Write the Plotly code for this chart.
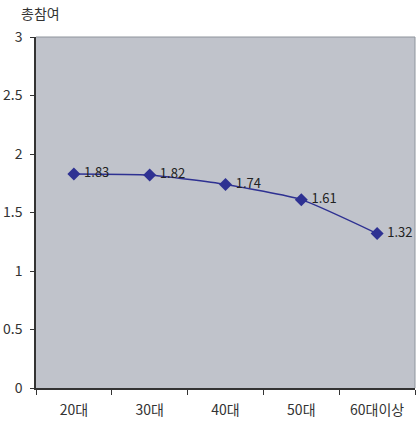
import plotly.graph_objects as go

# Average participation by age group
age_groups = ["20대", "30대", "40대", "50대", "60대이상"]
participation = [1.83, 1.82, 1.74, 1.61, 1.32]
y_ticks = [0, 0.5, 1, 1.5, 2, 2.5, 3]
y_tick_text = ["0", "0.5", "1", "1.5", "2", "2.5", "3"]

FONT = "Noto Sans CJK KR"
LINE_COLOR = "#2E3192"
FRAME_COLOR = "#8E949C"

fig = go.Figure(
    go.Scatter(
        x=age_groups,
        y=participation,
        mode="lines+markers+text",
        line=dict(color=LINE_COLOR, width=1.5, shape="spline", smoothing=0.5),
        marker=dict(symbol="diamond", size=10, color=LINE_COLOR),
        text=[f" {v:.2f}" for v in participation],
        textposition="middle right",
        textfont=dict(family=FONT, size=13, color="#222222"),
        cliponaxis=False,
        showlegend=False,
    )
)

fig.update_layout(
    width=418,
    height=421,
    margin=dict(l=36, r=3, t=37, b=33),
    paper_bgcolor="white",
    plot_bgcolor="#C0C3CB",
    font=dict(family=FONT, size=13, color="#333333"),
    annotations=[
        dict(
            text="총참여",
            xref="paper", yref="paper",
            x=0.013, y=1.0,
            xanchor="center", yanchor="bottom",
            yshift=12,
            showarrow=False,
            font=dict(family=FONT, size=14, color="#333333"),
        )
    ],
    shapes=[
        # light frame along the top and right edges of the plot area
        dict(type="line", xref="paper", yref="paper", x0=0, x1=1, y0=1, y1=1,
             line=dict(color=FRAME_COLOR, width=1), layer="above"),
        dict(type="line", xref="paper", yref="paper", x0=1, x1=1, y0=0, y1=1,
             line=dict(color=FRAME_COLOR, width=1), layer="above"),
    ],
)

fig.update_xaxes(
    type="category",
    range=[-0.5, 4.5],
    showgrid=False,
    showline=True,
    linecolor="#333333",
    linewidth=1.5,
    ticks="outside",
    tickson="boundaries",
    ticklen=5,
    tickcolor="#333333",
    ticklabelstandoff=8,
    tickfont=dict(size=14),
    zeroline=False,
)

fig.update_yaxes(
    range=[0, 3],
    tickvals=y_ticks,
    ticktext=y_tick_text,
    showgrid=False,
    showline=True,
    linecolor="#333333",
    linewidth=1.5,
    ticks="outside",
    ticklen=4,
    tickcolor="#333333",
    ticklabelstandoff=5,
    tickfont=dict(size=14),
    zeroline=False,
)

fig.write_html("out.html")
